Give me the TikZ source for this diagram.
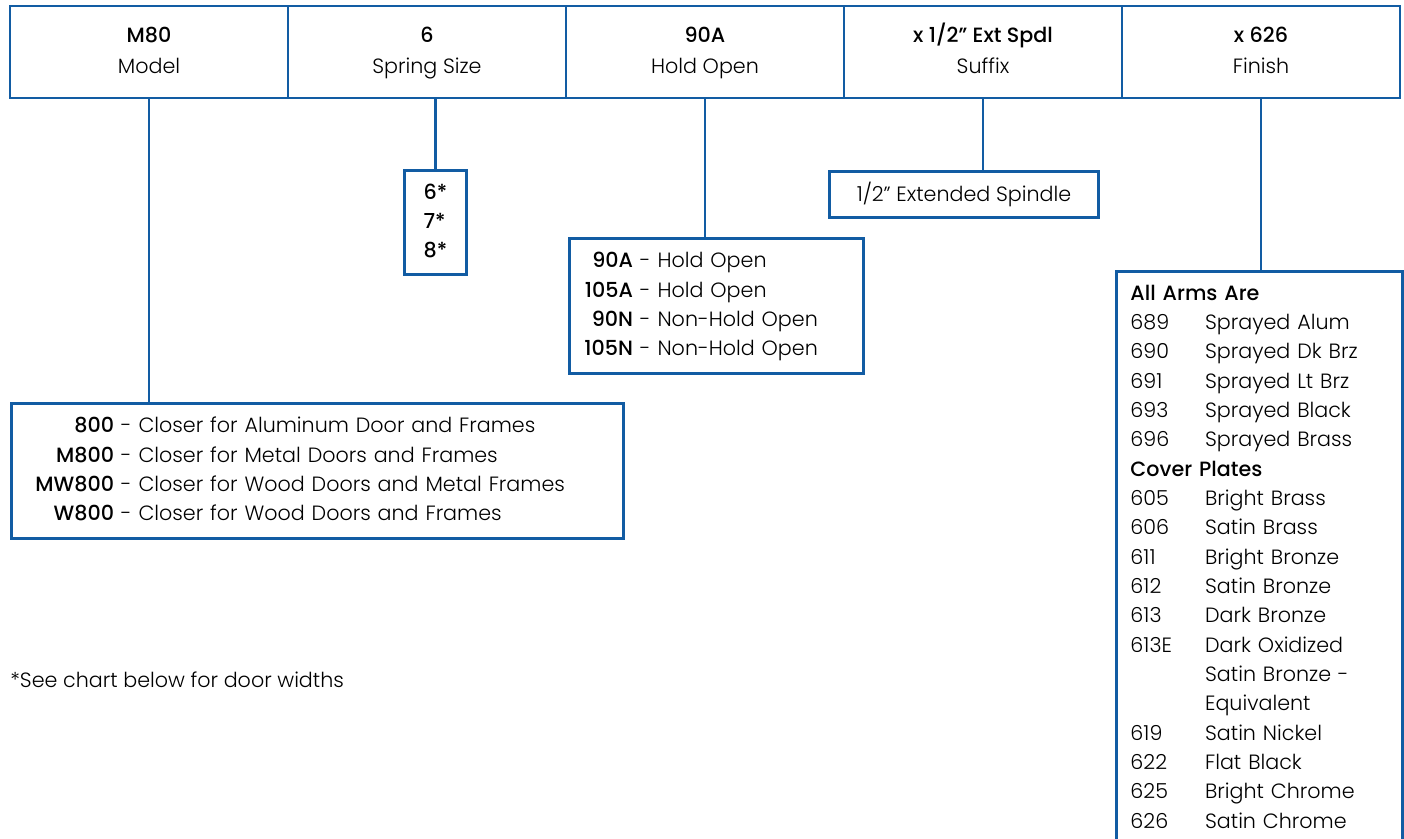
\documentclass[tikz,border=0pt]{standalone}
\usepackage{fontspec}
\setmainfont{Poppins}[UprightFont=* Light, BoldFont=* Medium]
\usepackage{array}
\definecolor{chartblue}{RGB}{18,92,163}
\newcommand{\chartsize}{\fontsize{15.5}{22}\selectfont}

\begin{document}
\begin{tikzpicture}[x=0.75pt,y=-0.75pt]
            \tikzstyle{cell}=[draw=chartblue,line width=2.2pt,minimum width=208.5pt,minimum height=69pt,inner sep=0pt,align=center,font=\chartsize]
            \tikzstyle{optbox}=[draw=chartblue,line width=2.2pt,anchor=north west,inner sep=0pt,font=\chartsize]
            \tikzstyle{link}=[draw=chartblue,line width=2.2pt]
                \useasboundingbox (0,0) rectangle (1404,839);

                \node[cell] (C-1) at (149,52){\strut\textbf{M80}\\[1pt]\strut Model};
                \node[cell] (C-2) at (427,52){\strut\textbf{6}\\[1pt]\strut Spring Size};
                \node[cell] (C-3) at (705,52){\strut\textbf{90A}\\[1pt]\strut Hold Open};
                \node[cell] (C-4) at (983,52){\strut\textbf{x 1/2" Ext Spdl}\\[1pt]\strut Suffix};
                \node[cell] (C-5) at (1261,52){\strut\textbf{x 626}\\[1pt]\strut Finish};

                \node[optbox,text width=423pt,inner xsep=18pt,minimum height=101.25pt,align=left] (B-1) at (10,402){%
                    \begin{tabular}{@{}r@{\ -\ }l@{}}
                    \textbf{800} & Closer for Aluminum Door and Frames\\
                    \textbf{M800} & Closer for Metal Doors and Frames\\
                    \textbf{MW800} & Closer for Wood Doors and Metal Frames\\
                    \textbf{W800} & Closer for Wood Doors and Frames
                    \end{tabular}};
                \node[optbox,minimum width=46.5pt,minimum height=78pt] (B-2) at (403,169){%
                    \begin{tabular}{@{}l@{}}
                    \textbf{6*}\\ \textbf{7*}\\ \textbf{8*}
                    \end{tabular}};
                \node[optbox,text width=198pt,inner xsep=11.25pt,minimum height=101.25pt,align=left] (B-3) at (568,237){%
                    \begin{tabular}{@{}r@{\ -\ }l@{}}
                    \textbf{90A} & Hold Open\\
                    \textbf{105A} & Hold Open\\
                    \textbf{90N} & Non-Hold Open\\
                    \textbf{105N} & Non-Hold Open
                    \end{tabular}};
                \node[optbox,minimum width=201.75pt,minimum height=34.5pt] (B-4) at (828,170){1/2" Extended Spindle};
                \node[optbox,text width=193.5pt,inner xsep=10.5pt,inner ysep=6pt,align=left] (B-5) at (1115,270){%
                    \begin{tabular}{@{}p{56pt}@{}l@{}}
                    \multicolumn{2}{@{}l@{}}{\textbf{All Arms Are}}\\
                    689 & Sprayed Alum\\
                    690 & Sprayed Dk Brz\\
                    691 & Sprayed Lt Brz\\
                    693 & Sprayed Black\\
                    696 & Sprayed Brass\\
                    \multicolumn{2}{@{}l@{}}{\textbf{Cover Plates}}\\
                    605 & Bright Brass\\
                    606 & Satin Brass\\
                    611 & Bright Bronze\\
                    612 & Satin Bronze\\
                    613 & Dark Bronze\\
                    613E & Dark Oxidized\\
                         & Satin Bronze -\\
                         & Equivalent\\
                    619 & Satin Nickel\\
                    622 & Flat Black\\
                    625 & Bright Chrome\\
                    626 & Satin Chrome
                    \end{tabular}};

                \foreach \n in {1,3,4,5}
                    \draw[link] (C-\n.south) -- (C-\n.south |- B-\n.north);
                \draw[link] (B-2.north) -- (B-2.north |- C-2.south);

                \node[anchor=west,inner sep=0pt,font=\chartsize] (note) at (10,680){*See chart below for door widths};
        \end{tikzpicture}
\end{document}
